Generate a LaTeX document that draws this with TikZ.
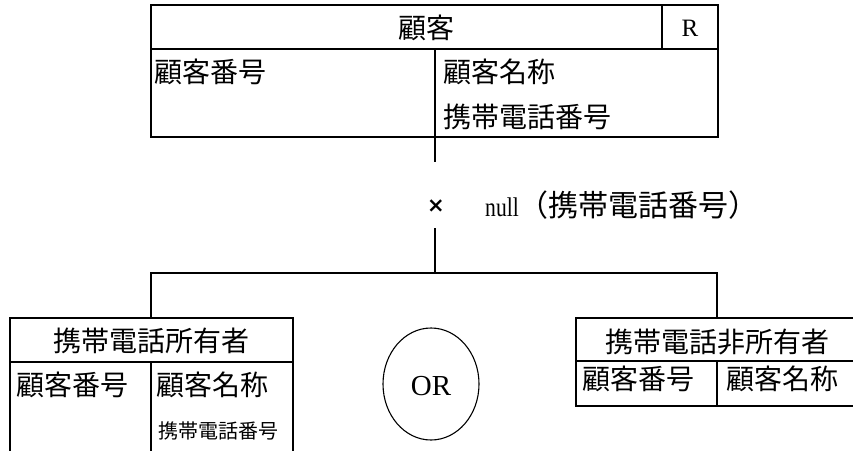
\documentclass[tikz,border=0pt]{standalone}
\usepackage{fontspec}
\setmainfont{Liberation Serif}
\newfontfamily\cjk{Noto Sans CJK JP}
\newfontfamily\dvs{DejaVu Sans}
\newfontfamily\narrowser[FakeStretch=0.8]{Liberation Serif}
\usetikzlibrary{shapes.geometric}
\begin{document}
\begin{tikzpicture}[x=1pt,y=-1pt,
  ln/.style={line width=1.6pt},
  cell/.style={draw,line width=1.6pt,anchor=north west,inner sep=0pt,outer sep=0pt},
  big/.style={inner sep=0pt,font=\cjk\fontsize{28}{30}\selectfont},
  small/.style={inner sep=0pt,font=\cjk\fontsize{20}{22}\selectfont},
  ser/.style={inner sep=0pt,font=\fontsize{25}{28}\selectfont}]
\useasboundingbox (0,0) rectangle (853,450);
\clip (0,0) rectangle (853,450);
% top entity
\node[cell,minimum width=511,minimum height=44] (tT) at (151,5) {};
\node[cell,minimum width=56,minimum height=44] (tR) at (662,5) {};
\node[cell,minimum width=284,minimum height=88] (tB1) at (151,49) {};
\node[cell,minimum width=283,minimum height=88] (tB2) at (435,49) {};
\node[big] (tTt) at (426,28) {顧客};
\node[ser] (tRt) at (690,28) {R};
\node[big,anchor=west] (t1) at (154,72) {顧客番号};
\node[big,anchor=west] (t2) at (443,72) {顧客名称};
\node[big,anchor=west] (t3) at (443,117) {携帯電話番号};
% left entity
\node[cell,minimum width=283,minimum height=44] (lT) at (10,318) {};
\node[cell,minimum width=141,minimum height=100] (lB1) at (10,362) {};
\node[cell,minimum width=142,minimum height=100] (lB2) at (151,362) {};
\node[big] (lTt) at (151.5,341) {携帯電話所有者};
\node[big,anchor=west] (l1) at (16,385) {顧客番号};
\node[big,anchor=west] (l2) at (156,385) {顧客名称};
\node[small,anchor=west] (l3) at (158,431) {携帯電話番号};
% right entity
\node[cell,minimum width=282,minimum height=43] (rT) at (576,318) {};
\node[cell,minimum width=141,minimum height=45] (rB1) at (576,361) {};
\node[cell,minimum width=141,minimum height=45] (rB2) at (717,361) {};
\node[big] (rTt) at (717,342) {携帯電話非所有者};
\node[big,anchor=west] (r1) at (582,379) {顧客番号};
\node[big,anchor=west] (r2) at (726,379) {顧客名称};
% OR
\node[draw,ellipse,line width=1.1pt,minimum width=96,minimum height=112,inner sep=0pt] (or) at (431,384) {};
\node[inner sep=0pt,font=\fontsize{29}{32}\selectfont] (ort) at (431,386) {OR};
% connectors
\coordinate (c1) at (435,162);
\coordinate (c2) at (435,228);
\coordinate (j) at (435,273);
\coordinate (jl) at (151,273);
\coordinate (jr) at (717,273);
\node[inner sep=0pt,font=\dvs\bfseries\fontsize{21}{22}\selectfont] (x) at (436,206) {×};
\node[anchor=west,inner sep=0pt] (nl) at (485,205)
  {\narrowser\fontsize{27}{30}\selectfont null\cjk\fontsize{30}{32}\selectfont （携帯電話番号）};
\draw[ln] (tB2.south west) -- (c1);
\draw[ln] (c2) -- (j);
\draw[ln] (lT.north -| jl) -- (jl) -- (jr) -- (rT.north -| jr);
\end{tikzpicture}
\end{document}
